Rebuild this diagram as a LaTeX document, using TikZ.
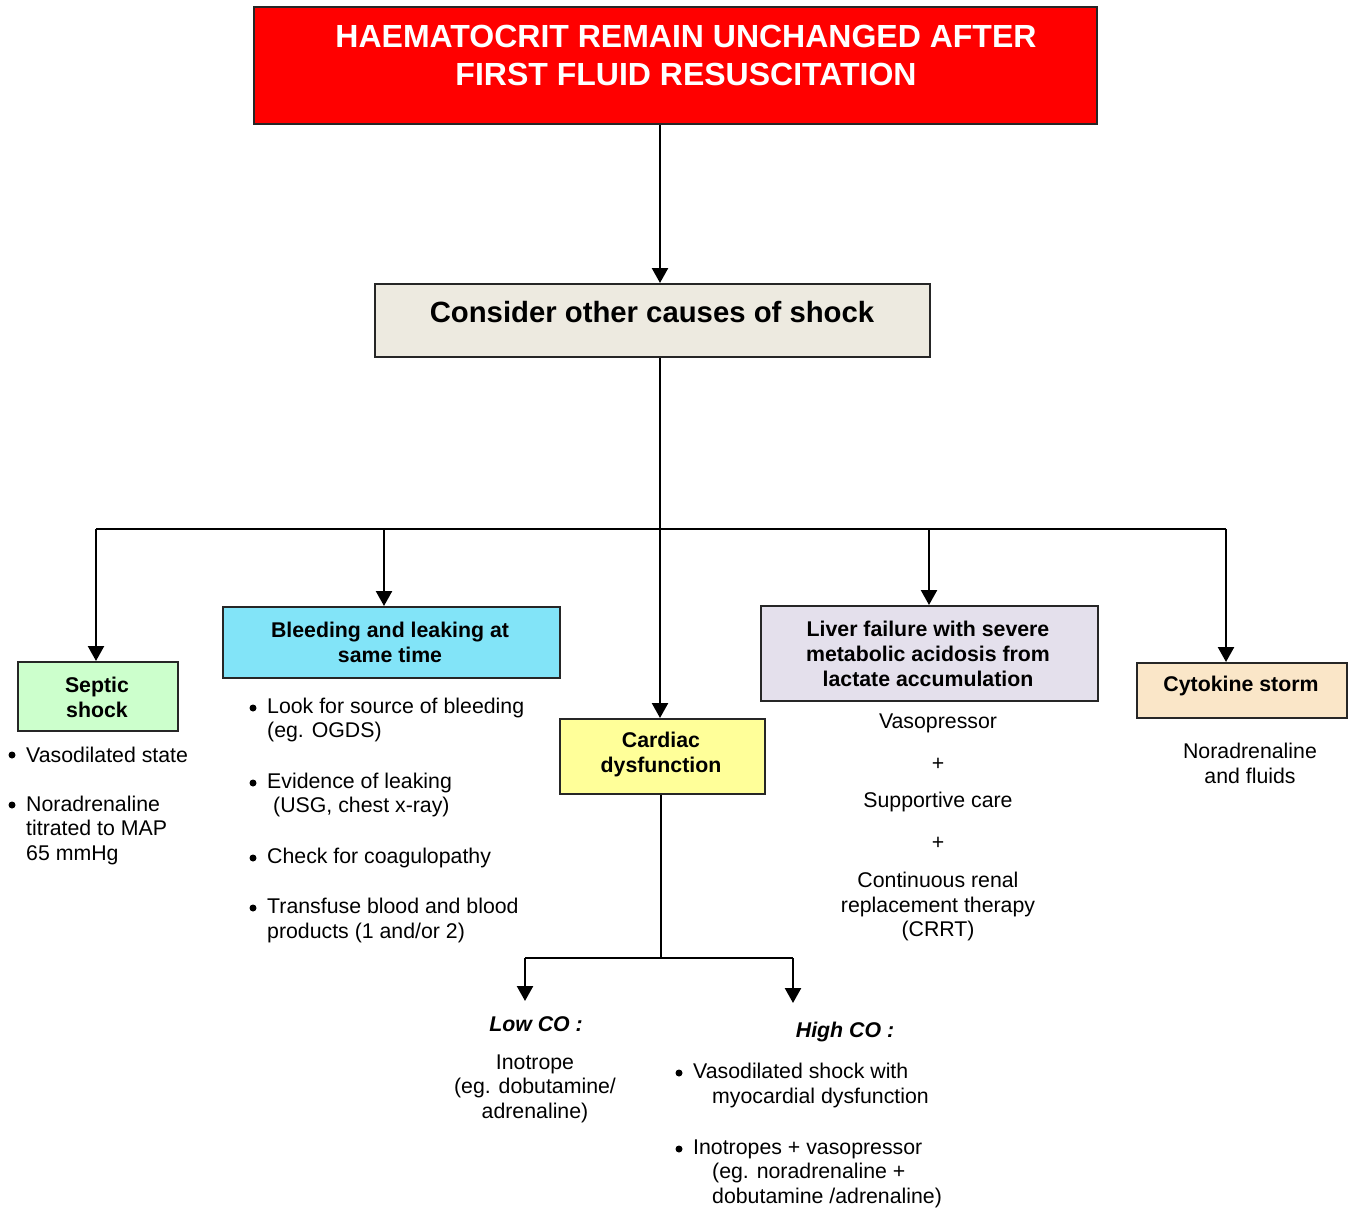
\documentclass[tikz,border=0pt]{standalone}
\usepackage{fontspec}
\setmainfont{Liberation Sans}
\usetikzlibrary{arrows.meta}
\definecolor{titlered}{HTML}{FF0000}
\definecolor{considerbg}{HTML}{EDEAE0}
\definecolor{septicbg}{HTML}{CCFFCC}
\definecolor{bleedbg}{HTML}{82E4F8}
\definecolor{cardbg}{HTML}{FFFF99}
\definecolor{liverbg}{HTML}{E4E0EC}
\definecolor{cytobg}{HTML}{FAE6C8}
\tikzset{
  box/.style={draw=black!85, line width=2pt, rectangle, inner sep=0pt, anchor=north west},
  conn/.style={line width=2.4pt, draw=black},
  arr/.style={conn, -{Triangle[width=16pt,length=15pt]}},
  body/.style={inner sep=0pt, font=\fontsize{21.3}{24.5}\selectfont},
  boxtxt/.style={inner sep=0pt, align=center, font=\fontsize{21.3}{25}\selectfont\bfseries},
  bul/.style={circle, fill=black, inner sep=0pt, minimum size=7pt},
}
\begin{document}
\begin{tikzpicture}[x=1pt,y=-1pt]
\useasboundingbox (0,0) rectangle (1349,1208);
% boxes
\node[box, fill=titlered, minimum width=843pt, minimum height=117pt] (title) at (253,6) {};
\node[inner sep=0pt, align=center, text=white, font=\fontsize{32}{38}\selectfont\bfseries] (titletxt) at (686,55) {HAEMATOCRIT REMAIN UNCHANGED AFTER\\FIRST FLUID RESUSCITATION};
\node[box, fill=considerbg, minimum width=555pt, minimum height=73pt] (consider) at (374,283) {};
\node[inner sep=0pt, font=\fontsize{29.3}{34}\selectfont\bfseries] (considertxt) at (652,312) {Consider other causes of shock};
\node[box, fill=septicbg, minimum width=160pt, minimum height=69pt] (septic) at (17,661) {};
\node[boxtxt] (septictxt) at (97,697) {Septic\\shock};
\node[box, fill=bleedbg, minimum width=337pt, minimum height=71pt] (bleed) at (222,606) {};
\node[boxtxt] (bleedtxt) at (390,642.5) {Bleeding and leaking at\\same time};
\node[box, fill=cardbg, minimum width=205pt, minimum height=75pt] (card) at (559,718) {};
\node[boxtxt] (cardtxt) at (661,754.5) {Cardiac\\dysfunction};
\node[box, fill=liverbg, minimum width=337pt, minimum height=95pt] (liver) at (760,605) {};
\node[boxtxt] (livertxt) at (928,653.5) {Liver failure with severe\\metabolic acidosis from\\lactate accumulation};
\node[box, fill=cytobg, minimum width=210pt, minimum height=55pt] (cyto) at (1136,662) {};
\node[boxtxt] (cytotxt) at (1241,686) {Cytokine storm};
% connectors
\coordinate (b1) at (96,529);
\coordinate (b2) at (384,529);
\coordinate (b3) at (660,529);
\coordinate (b4) at (929,529);
\coordinate (b5) at (1226,529);
\draw[arr] (title.south -| b3) -- (consider.north -| b3);
\draw[conn] (consider.south -| b3) -- (b3);
\draw[conn] (b1) -- (b5);
\draw[arr] (b1) -- (septic.north -| b1);
\draw[arr] (b2) -- (bleed.north -| b2);
\draw[arr] (b3) -- (card.north -| b3);
\draw[arr] (b4) -- (liver.north -| b4);
\draw[arr] (b5) -- (cyto.north -| b5);
\coordinate (c0) at (661,958);
\coordinate (c1) at (525,958);
\coordinate (c2) at (793,958);
\coordinate (lowend) at (525,1001);
\coordinate (highend) at (793,1003);
\draw[conn] (card.south -| c0) -- (c0);
\draw[conn] (c1) -- (c2);
\draw[arr] (c1) -- (lowend);
\draw[arr] (c2) -- (highend);
% septic bullets
\node[bul] (sb1) at (12,755) {};
\node[body, anchor=west] (st1) at (26,755) {Vasodilated state};
\node[bul] (sb2) at (12,805) {};
\node[body, anchor=west, align=left] (st2) at (26,830) {Noradrenaline\\titrated to MAP\\65 mmHg};
% bleeding bullets
\node[bul] (bb1) at (253,708) {};
\node[body, anchor=west, align=left] (bt1) at (267,720) {Look for source of bleeding\\(eg. OGDS)};
\node[bul] (bb2) at (253,783) {};
\node[body, anchor=west, align=left] (bt2) at (267,795) {Evidence of leaking\\\hspace*{6pt}(USG, chest x-ray)};
\node[bul] (bb3) at (253,858) {};
\node[body, anchor=west] (bt3) at (267,858) {Check for coagulopathy};
\node[bul] (bb4) at (253,908) {};
\node[body, anchor=west, align=left] (bt4) at (267,920.5) {Transfuse blood and blood\\products (1 and/or 2)};
% liver text
\node[body] (lv1) at (938,723) {Vasopressor};
\node[body] (lv2) at (938,764) {+};
\node[body] (lv3) at (938,802) {Supportive care};
\node[body] (lv4) at (938,843) {+};
\node[body, align=center] (lv5) at (938,906.5) {Continuous renal\\replacement therapy\\(CRRT)};
% cytokine text
\node[body, align=center] (cy1) at (1250,763.5) {Noradrenaline\\and fluids};
% low CO
\node[body, font=\fontsize{21.3}{24.5}\selectfont\bfseries\itshape] (lowtitle) at (536,1024) {Low CO :};
\node[body, align=center] (lowtxt) at (535,1088.5) {Inotrope\\(eg. dobutamine/\\adrenaline)};
% high CO
\node[body, font=\fontsize{21.3}{24.5}\selectfont\bfseries\itshape] (hightitle) at (845,1032) {High CO :};
\node[bul] (hb1) at (679,1073) {};
\node[body, anchor=west, align=left] (ht1) at (693,1085.5) {Vasodilated shock with\\\hspace*{19pt}myocardial dysfunction};
\node[bul] (hb2) at (679,1149) {};
\node[body, anchor=west, align=left] (ht2) at (693,1173.5) {Inotropes + vasopressor\\\hspace*{19pt}(eg. noradrenaline +\\\hspace*{19pt}dobutamine /adrenaline)};
\end{tikzpicture}
\end{document}
